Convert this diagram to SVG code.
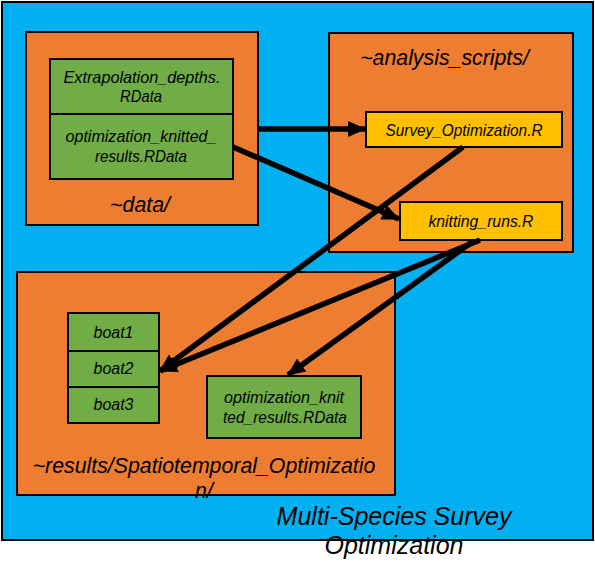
<svg xmlns="http://www.w3.org/2000/svg" width="595" height="577" viewBox="0 0 595 577">
<style>
.bg{fill:#00B0F0;stroke:#000;stroke-width:2}
.folder{fill:#ED7D31;stroke:#000;stroke-width:2}
.file{fill:#70AD47;stroke:#000;stroke-width:2}
.script{fill:#FFC000;stroke:#000;stroke-width:2}
.big{font-family:"Liberation Sans",Arial,sans-serif;font-style:italic;font-size:21.3px;fill:#000}
.title{font-family:"Liberation Sans",Arial,sans-serif;font-style:italic;font-size:25px;fill:#000}
.small{font-family:"Liberation Sans",Arial,sans-serif;font-style:italic;font-size:16.5px;fill:#000;text-anchor:middle}
.conn{stroke:#000;stroke-width:5.5;fill:none;marker-end:url(#ah)}
</style>
<defs>
<marker id="ah" markerUnits="userSpaceOnUse" markerWidth="18" markerHeight="18" viewBox="0 0 18 18" refX="17" refY="9" orient="auto">
<path d="M0,1 L18,9 L0,17 Z" fill="#000"/>
</marker>
</defs>
<g id="background">
<rect class="bg" x="2" y="2" width="591" height="538"/>
<text class="title" x="394" y="525" text-anchor="middle">Multi-Species Survey</text>
<text class="title" x="394" y="554" text-anchor="middle">Optimization</text>
</g>
<g id="data-folder">
<rect class="folder" x="26" y="32" width="232" height="193"/>
<text class="big" x="140" y="212" text-anchor="middle">~data/</text>
</g>
<g id="extrapolation-file">
<rect class="file" x="50" y="59" width="183" height="55"/>
<text class="small" x="142" y="83" textLength="157" lengthAdjust="spacingAndGlyphs">Extrapolation_depths.</text>
<text class="small" x="141" y="102" textLength="42" lengthAdjust="spacingAndGlyphs">RData</text>
</g>
<g id="knitted-file-data">
<rect class="file" x="50" y="114" width="183" height="65"/>
<text class="small" x="141" y="142" textLength="151" lengthAdjust="spacingAndGlyphs">optimization_knitted_</text>
<text class="small" x="141" y="162" textLength="92" lengthAdjust="spacingAndGlyphs">results.RData</text>
</g>
<g id="analysis-folder">
<rect class="folder" x="329" y="33" width="244" height="219"/>
<text class="big" x="444.5" y="65" text-anchor="middle">~analysis_scripts/</text>
</g>
<g id="survey-script">
<rect class="script" x="366" y="112" width="196" height="35"/>
<text class="small" x="464" y="136" textLength="157" lengthAdjust="spacingAndGlyphs">Survey_Optimization.R</text>
</g>
<g id="knitting-script">
<rect class="script" x="400" y="202" width="162" height="38"/>
<text class="small" x="481" y="227" textLength="105" lengthAdjust="spacingAndGlyphs">knitting_runs.R</text>
</g>
<g id="results-folder">
<rect class="folder" x="17" y="272" width="378" height="223"/>
<text class="big" x="204" y="473" text-anchor="middle">~results/Spatiotemporal_Optimizatio</text>
<text class="big" x="204" y="498" text-anchor="middle">n/</text>
</g>
<g id="boat1">
<rect class="file" x="68" y="313" width="91" height="38"/>
<text class="small" x="113.5" y="338" textLength="40" lengthAdjust="spacingAndGlyphs">boat1</text>
</g>
<g id="boat2">
<rect class="file" x="68" y="351" width="91" height="36"/>
<text class="small" x="113.5" y="374" textLength="40" lengthAdjust="spacingAndGlyphs">boat2</text>
</g>
<g id="boat3">
<rect class="file" x="68" y="387" width="91" height="36"/>
<text class="small" x="113.5" y="410" textLength="40" lengthAdjust="spacingAndGlyphs">boat3</text>
</g>
<g id="knitted-file-results">
<rect class="file" x="207" y="376" width="154" height="62"/>
<text class="small" x="284" y="403" textLength="120" lengthAdjust="spacingAndGlyphs">optimization_knit</text>
<text class="small" x="285" y="423" textLength="124" lengthAdjust="spacingAndGlyphs">ted_results.RData</text>
</g>
<g id="connectors">
<line class="conn" x1="258" y1="129" x2="365" y2="129"/>
<line class="conn" x1="233" y1="147" x2="399" y2="219"/>
<line class="conn" x1="463" y1="147" x2="160" y2="371"/>
<line class="conn" x1="480" y1="240" x2="160" y2="371"/>
<line class="conn" x1="472" y1="242" x2="288" y2="375"/>
</g>
</svg>
